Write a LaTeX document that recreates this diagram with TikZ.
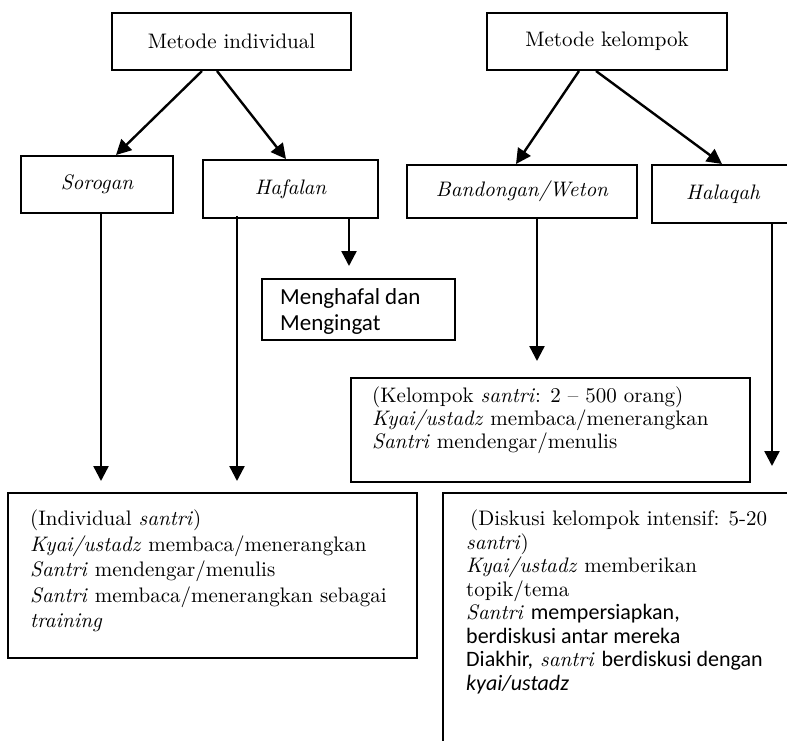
\documentclass[tikz,border=0pt]{standalone}
\usepackage{fontspec}
\setmainfont{lmroman10-regular.otf}[ItalicFont=lmroman10-italic.otf, BoldFont=lmroman10-bold.otf]
\newfontfamily\calfnt{Carlito}
\usetikzlibrary{arrows.meta,calc}
\newcommand\sn[1]{{\fontsize{22}{23.5}\selectfont\calfnt #1}}
\tikzset{
  box/.style={draw, line width=2pt, inner sep=0pt},
  arr/.style={line width=2.4pt, -{Triangle[width=15pt,length=15pt]}},
  toplbl/.style={font=\fontsize{21}{25}\selectfont},
  lbl/.style={font=\fontsize{21}{25}\selectfont\itshape},
  txt/.style={align=left, inner sep=0pt, anchor=north west}
}
\begin{document}
\begin{tikzpicture}[x=1pt,y=-1pt]
\useasboundingbox (0,0) rectangle (787,740);
\clip (0,0) rectangle (787,740);

% top boxes
\node[box, toplbl, minimum width=239pt, minimum height=57pt] (mi) at (231.5,41.5) {Metode individual};
\node[box, toplbl, minimum width=240pt, minimum height=57pt] (mk) at (607,41.5) {Metode kelompok};

% second row
\node[box, lbl, minimum width=152pt, minimum height=57pt] (sor) at (97,184.5) {Sorogan};
\node[box, lbl, minimum width=175pt, minimum height=58pt] (haf) at (290.5,189) {Hafalan};
\node[box, lbl, minimum width=230pt, minimum height=53pt] (ban) at (522,191.5) {Bandongan/Weton};
\node[box, lbl, minimum width=142pt, minimum height=58pt] (hal) at (723,194) {Halaqah};

% menghafal
\node[box, minimum width=193pt, minimum height=61pt] (meng) at (358.5,309.5) {};
\node[txt, font=\fontsize{23}{26}\selectfont\calfnt] (mengt) at (280,288) {Menghafal dan\\Mengingat};

% kelompok box
\node[box, minimum width=399pt, minimum height=104pt] (kel) at (550.5,430) {};
\node[txt, font=\fontsize{21}{23}\selectfont] (kelt) at (372,387) {(Kelompok \textit{santri}: 2 – 500 orang)\\
\textit{Kyai/ustadz} membaca/menerangkan\\
\textit{Santri} mendengar/menulis};

% left bottom box
\node[box, minimum width=409pt, minimum height=165pt] (lb) at (212.5,575.5) {};
\node[txt, font=\fontsize{21}{25.5}\selectfont] (lbt) at (30,510) {(Individual \textit{santri})\\
\textit{Kyai/ustadz} membaca/menerangkan\\
\textit{Santri} mendengar/menulis\\
\textit{Santri} membaca/menerangkan sebagai\\
\textit{training}};

% right bottom box
\node[box, minimum width=367pt, minimum height=277pt] (rb) at (626.5,631.5) {};
\node[txt, font=\fontsize{21}{23.5}\selectfont] (rbt) at (466,510) {\hspace{4pt}(Diskusi kelompok intensif: 5-20\\
\textit{santri})\\
\textit{Kyai/ustadz} memberikan\\
topik/tema\\
\textit{Santri} \sn{mempersiapkan,}\\
\sn{berdiskusi antar mereka}\\
\sn{Diakhir,} \textit{santri} \sn{berdiskusi dengan}\\
\sn{\itshape kyai/ustadz}};

% arrows
\draw[arr] ($(mi.south west)+(91,0)$) -- ($(sor.north west)+(96,0)$);
\draw[arr] ($(mi.south west)+(106,0)$) -- ($(haf.north west)+(84,0)$);
\draw[arr] ($(mk.south west)+(93,0)$) -- ($(ban.north west)+(110,0)$);
\draw[arr] ($(mk.south west)+(110,0)$) -- ($(hal.north west)+(71,0)$);
\draw[arr] ($(sor.south west)+(81,0)$) -- ($(lb.north west)+(94,-11)$);
\draw[arr] ($(haf.south west)+(35,-3)$) -- ($(lb.north west)+(230,-11)$);
\draw[arr] ($(haf.south west)+(147,0)$) -- ($(meng.north west)+(88,-12)$);
\draw[arr] ($(ban.south west)+(131,0)$) -- ($(kel.north west)+(187,-16)$);
\draw[arr] ($(hal.south west)+(121,0)$) -- ($(rb.north west)+(330,-26)$);
\end{tikzpicture}
\end{document}
